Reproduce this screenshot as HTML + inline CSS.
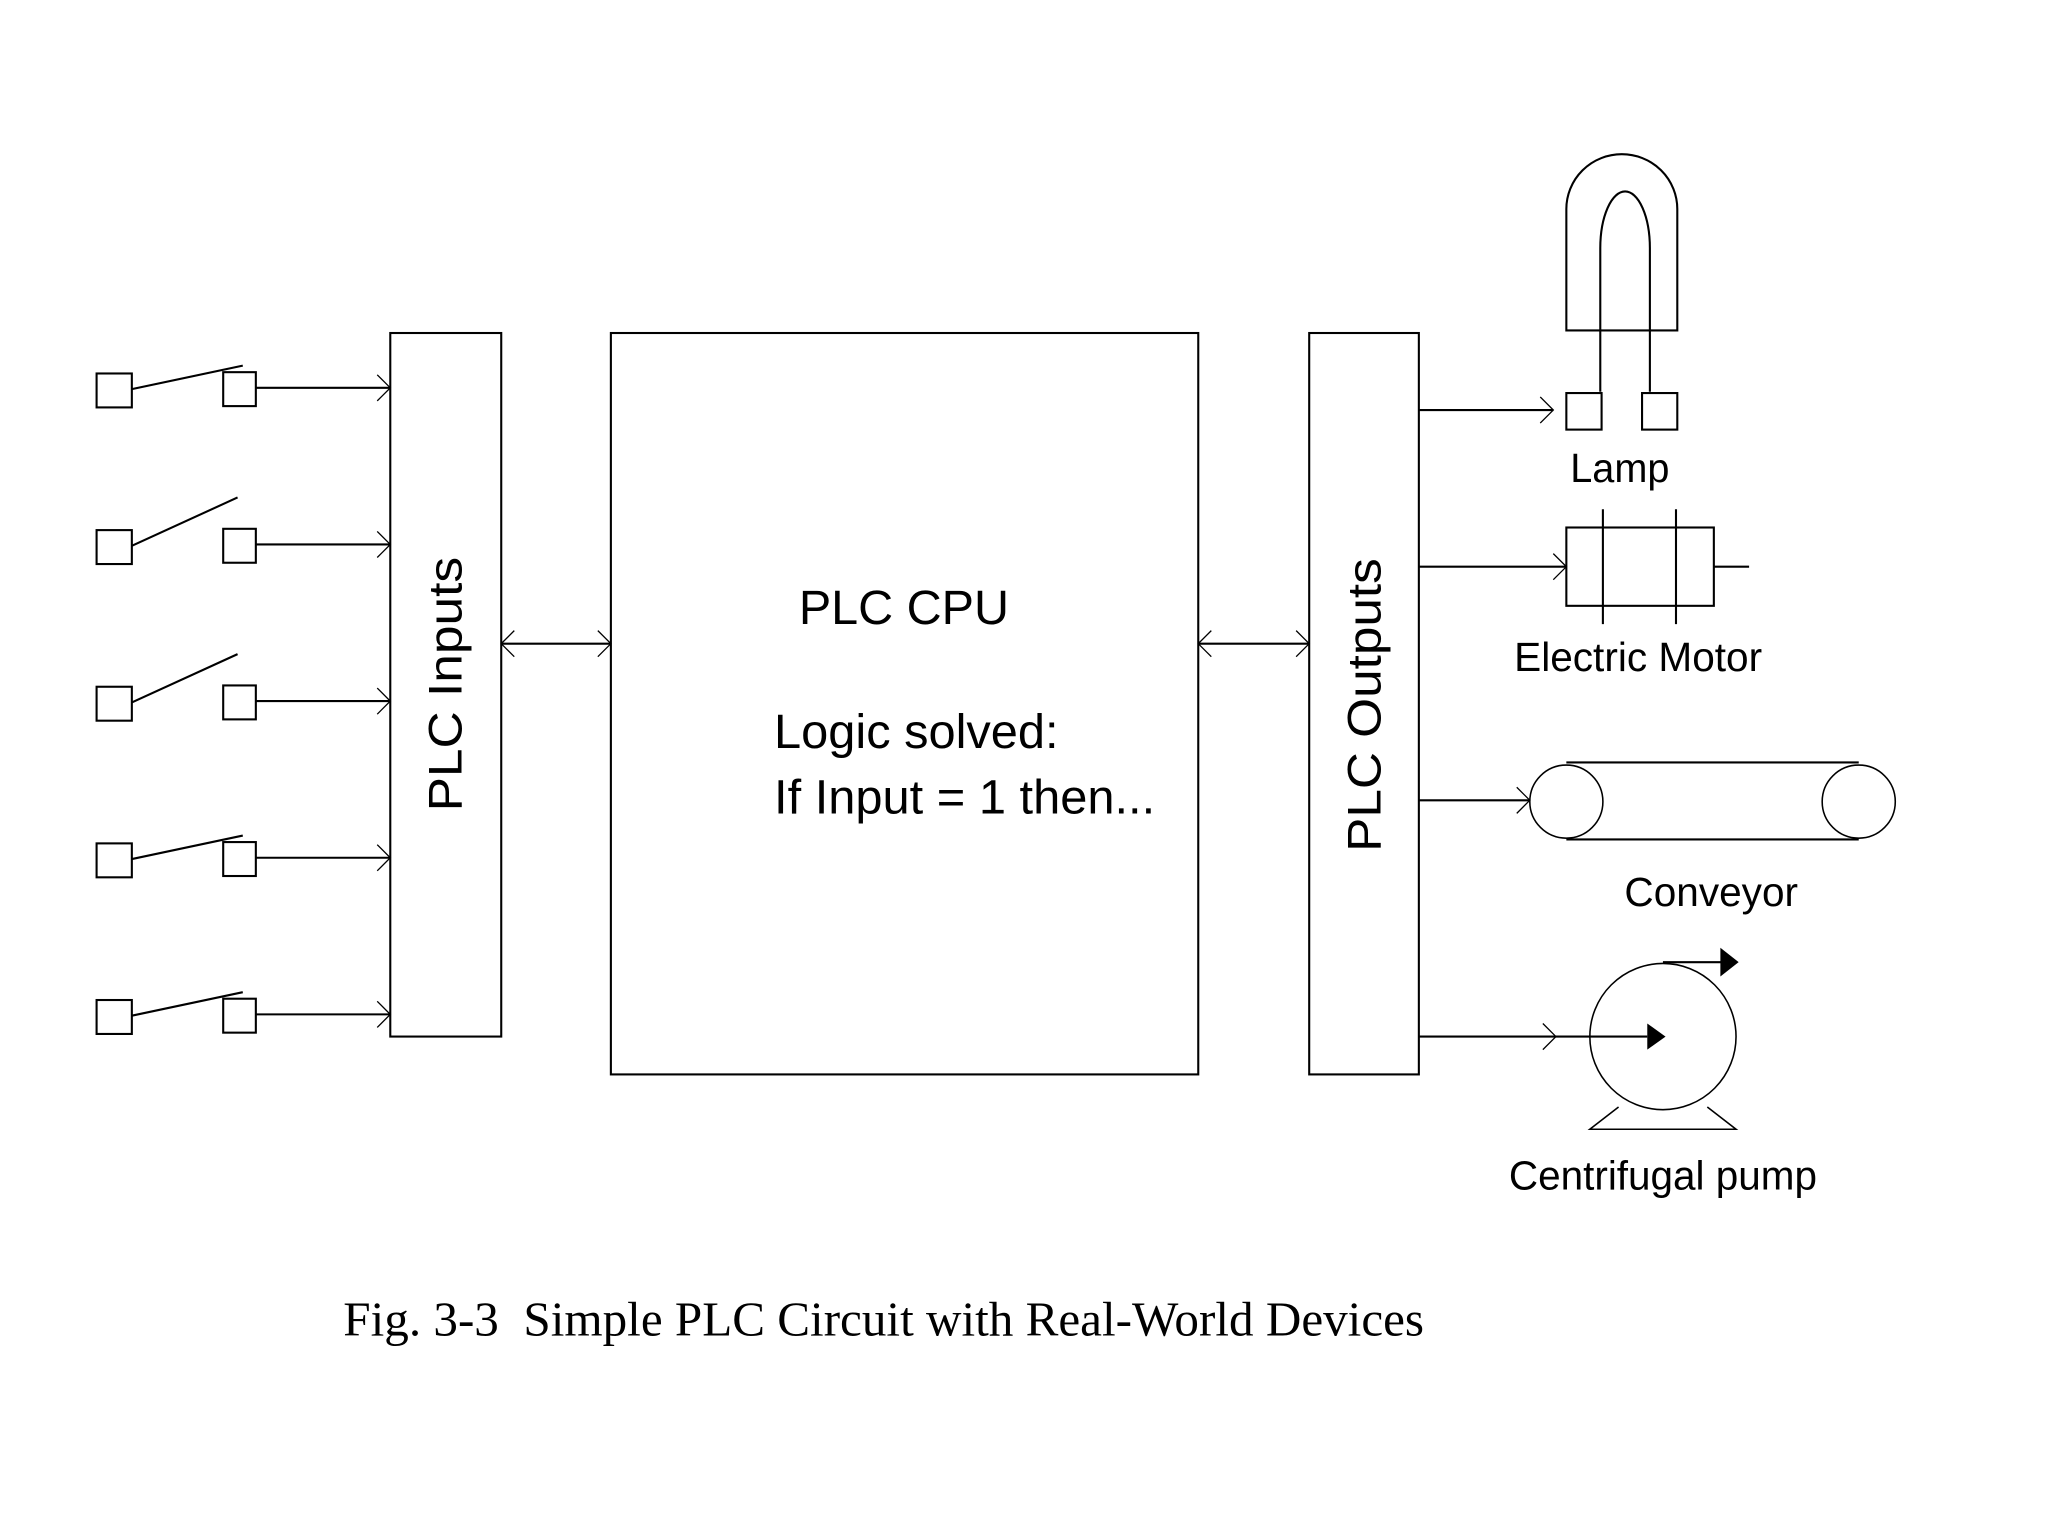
<!DOCTYPE html>
<html><head><meta charset="utf-8"><style>html,body{margin:0;padding:0;background:#fff}svg{display:block}</style></head>
<body>
<svg width="2048" height="1536" viewBox="0 0 1569 1176.5" xmlns="http://www.w3.org/2000/svg">
<g fill="none" stroke="#000" stroke-width="1.6">
<g><rect x="74" y="286" width="27" height="26"/><rect x="171" y="285" width="25" height="26"/><line x1="196" y1="297" x2="299" y2="297"/><polyline points="289,287 299,297 289,307" stroke-width="1"/><line x1="101" y1="298" x2="186" y2="280"/></g>
<g transform="translate(0,120)"><rect x="74" y="286" width="27" height="26"/><rect x="171" y="285" width="25" height="26"/><line x1="196" y1="297" x2="299" y2="297"/><polyline points="289,287 299,297 289,307" stroke-width="1"/><line x1="101" y1="298" x2="182" y2="261"/></g>
<g transform="translate(0,240)"><rect x="74" y="286" width="27" height="26"/><rect x="171" y="285" width="25" height="26"/><line x1="196" y1="297" x2="299" y2="297"/><polyline points="289,287 299,297 289,307" stroke-width="1"/><line x1="101" y1="298" x2="182" y2="261"/></g>
<g transform="translate(0,360)"><rect x="74" y="286" width="27" height="26"/><rect x="171" y="285" width="25" height="26"/><line x1="196" y1="297" x2="299" y2="297"/><polyline points="289,287 299,297 289,307" stroke-width="1"/><line x1="101" y1="298" x2="186" y2="280"/></g>
<g transform="translate(0,480)"><rect x="74" y="286" width="27" height="26"/><rect x="171" y="285" width="25" height="26"/><line x1="196" y1="297" x2="299" y2="297"/><polyline points="289,287 299,297 289,307" stroke-width="1"/><line x1="101" y1="298" x2="186" y2="280"/></g>
<rect x="299" y="255" width="85" height="539"/>
<rect x="468" y="255" width="450" height="568"/>
<rect x="1003" y="255" width="84" height="568"/>
<line x1="384" y1="493" x2="468" y2="493"/>
<polyline points="394,483 384,493 394,503" stroke-width="1"/><polyline points="458,483 468,493 458,503" stroke-width="1"/>
<line x1="918" y1="493" x2="1003" y2="493"/>
<polyline points="928,483 918,493 928,503" stroke-width="1"/><polyline points="993,483 1003,493 993,503" stroke-width="1"/>
<line x1="1087" y1="314" x2="1190" y2="314"/><polyline points="1180,304 1190,314 1180,324" stroke-width="1"/>
<line x1="1087" y1="434" x2="1200" y2="434"/><polyline points="1190,424 1200,434 1190,444" stroke-width="1"/>
<line x1="1087" y1="613" x2="1172" y2="613"/><polyline points="1162,603 1172,613 1162,623" stroke-width="1"/>
<line x1="1087" y1="794" x2="1262" y2="794"/><polyline points="1182,784 1192,794 1182,804" stroke-width="1"/>
<path d="M1200,253 V160 A42.5,42 0 0 1 1285,160 V253 Z"/>
<path d="M1226,300 V190 A14,32 0 0 1 1264,190 V300"/>
<rect x="1200" y="301" width="27" height="28"/><rect x="1258" y="301" width="27" height="28"/>
<rect x="1200" y="404" width="113" height="60"/>
<line x1="1228" y1="390" x2="1228" y2="478"/><line x1="1284" y1="390" x2="1284" y2="478"/>
<line x1="1313" y1="434" x2="1340" y2="434"/>
<circle cx="1200" cy="614" r="28" stroke-width="1.2"/><circle cx="1424" cy="614" r="28" stroke-width="1.2"/>
<line x1="1200" y1="584" x2="1424" y2="584"/><line x1="1200" y1="643" x2="1424" y2="643"/>
<circle cx="1274" cy="794" r="56" stroke-width="1.2"/>
<polyline points="1240,848 1218,865 1330,865 1308,848" stroke-width="1.2"/>
<line x1="1274" y1="737" x2="1320" y2="737"/>
</g>
<polygon points="1262,784 1276,794 1262,804" fill="#000"/>
<polygon points="1318,726 1332,737 1318,748" fill="#000"/>
<g font-family="Liberation Sans, sans-serif" fill="#000">
<text x="341" y="524" font-size="36" text-anchor="middle" dominant-baseline="central" textLength="195" lengthAdjust="spacingAndGlyphs" transform="rotate(-90 341 524)">PLC Inputs</text>
<text x="1045" y="540" font-size="36" text-anchor="middle" dominant-baseline="central" textLength="225" lengthAdjust="spacingAndGlyphs" transform="rotate(-90 1045 540)">PLC Outputs</text>
<text x="612" y="478" font-size="37" textLength="161" lengthAdjust="spacingAndGlyphs">PLC CPU</text>
<text x="593" y="573" font-size="37" textLength="218" lengthAdjust="spacingAndGlyphs">Logic solved:</text>
<text x="593" y="623" font-size="37" textLength="292" lengthAdjust="spacingAndGlyphs">If Input = 1 then...</text>
<text x="1241" y="369" font-size="31" text-anchor="middle" textLength="76" lengthAdjust="spacingAndGlyphs">Lamp</text>
<text x="1255" y="514" font-size="31" text-anchor="middle" textLength="190" lengthAdjust="spacingAndGlyphs">Electric Motor</text>
<text x="1311" y="694" font-size="31" text-anchor="middle" textLength="133" lengthAdjust="spacingAndGlyphs">Conveyor</text>
<text x="1274" y="911" font-size="31" text-anchor="middle" textLength="236" lengthAdjust="spacingAndGlyphs">Centrifugal pump</text>
</g>
<text x="263" y="1023" font-family="Liberation Serif, serif" font-size="37.5" textLength="828" lengthAdjust="spacingAndGlyphs" xml:space="preserve">Fig. 3-3  Simple PLC Circuit with Real-World Devices</text>
</svg>
</body></html>
